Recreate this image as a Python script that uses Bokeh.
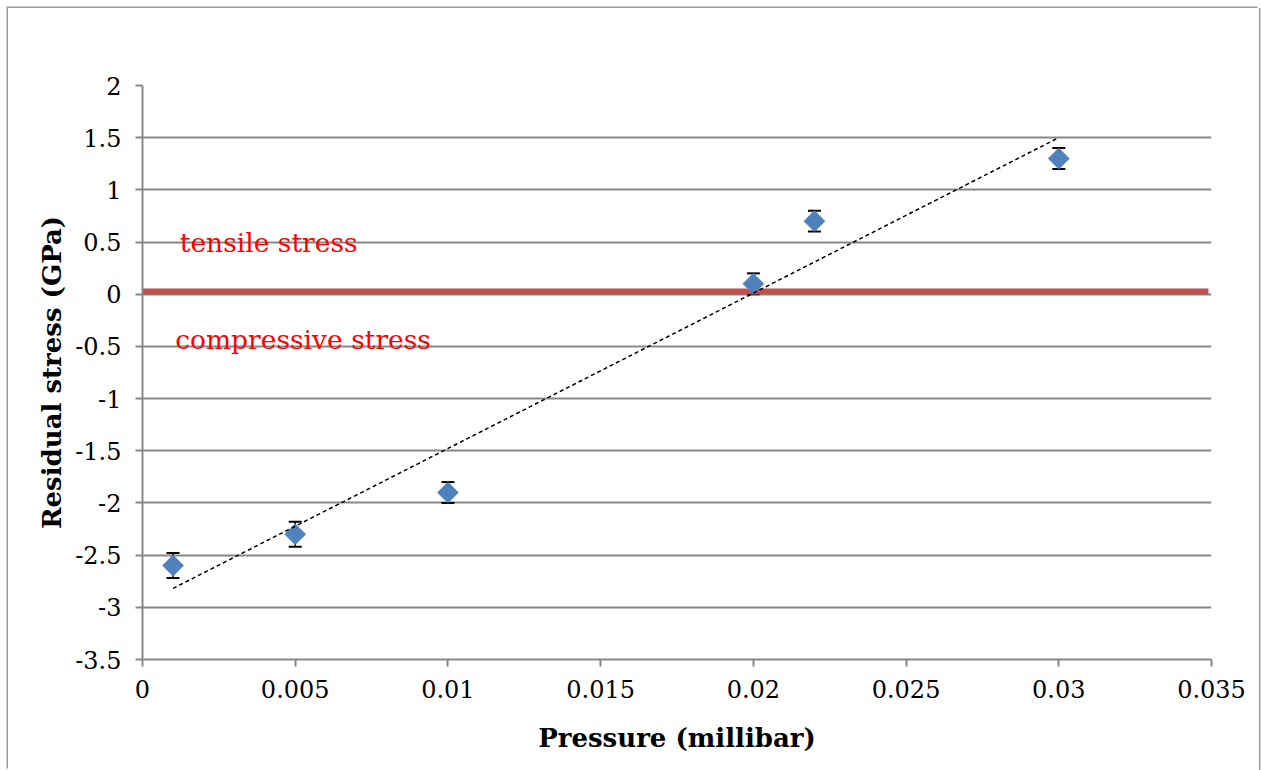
import numpy as np
from bokeh.plotting import figure
from bokeh.models import ColumnDataSource, Whisker, TeeHead, FixedTicker, Label
from bokeh.embed import file_html
from bokeh.resources import INLINE

# ---- data ----
pressure = [0.001, 0.005, 0.01, 0.02, 0.022, 0.03]
stress = [-2.6, -2.3, -1.9, 0.1, 0.7, 1.3]
stress_err = [0.12, 0.12, 0.1, 0.1, 0.1, 0.1]

x_ticks = [0, 0.005, 0.01, 0.015, 0.02, 0.025, 0.03, 0.035]
x_tick_labels = ["0", "0.005", "0.01", "0.015", "0.02", "0.025", "0.03", "0.035"]
y_ticks = [-3.5, -3, -2.5, -2, -1.5, -1, -0.5, 0, 0.5, 1, 1.5, 2]
y_tick_labels = ["-3.5", "-3", "-2.5", "-2", "-1.5", "-1", "-0.5", "0", "0.5", "1", "1.5", "2"]

boundary_x = [0.0, 0.0349]
boundary_y = [0.025, 0.025]

tensile_label = "tensile stress"
compressive_label = "compressive stress"
x_title = "Pressure (millibar)"
y_title = "Residual stress (GPa)"

SERIF = "DejaVu Serif"
GRID = "#878787"

p = figure(width=1251, height=762, output_backend="svg", toolbar_location=None,
           x_range=(0, 0.035), y_range=(-3.5, 2),
           min_border_left=134, min_border_right=48, min_border_top=77, min_border_bottom=111)
p.margin = (8, 0, 0, 8)
p.styles = {"box-shadow": "-1.5px -1.5px 0 0 #9a9a9a, 1.5px 0 0 0 #9a9a9a"}
p.outline_line_color = None
p.background_fill_color = "white"
p.border_fill_color = "white"

# axes
p.xaxis.ticker = FixedTicker(ticks=x_ticks)
p.yaxis.ticker = FixedTicker(ticks=y_ticks)
p.xaxis.major_label_overrides = {t: l for t, l in zip(x_ticks, x_tick_labels)}
p.yaxis.major_label_overrides = {t: l for t, l in zip(y_ticks, y_tick_labels)}
for ax in (p.xaxis, p.yaxis):
    ax.axis_line_color = GRID
    ax.axis_line_width = 2
    ax.major_tick_line_color = GRID
    ax.major_tick_line_width = 2
    ax.major_tick_in = 0
    ax.major_tick_out = 7
    ax.minor_tick_line_color = None
    ax.major_label_text_font = SERIF
    ax.major_label_text_font_size = "24px"
    ax.major_label_text_color = "black"
    ax.axis_label_text_font = SERIF
    ax.axis_label_text_font_style = "bold"
    ax.axis_label_text_font_size = "26px"
    ax.axis_label_text_color = "black"
p.yaxis.major_label_standoff = 14
p.xaxis.major_label_standoff = 13
p.xaxis.axis_label = x_title
p.yaxis.axis_label = y_title
p.xaxis.axis_label_standoff = 22
p.yaxis.axis_label_standoff = 5

p.xgrid.grid_line_color = None
p.ygrid.grid_line_color = GRID
p.ygrid.grid_line_width = 2

# boundary line
p.line(boundary_x, boundary_y, line_color="#C0504D", line_width=6)

# error bars
src = ColumnDataSource(dict(
    x=pressure, y=stress,
    upper=[s + e for s, e in zip(stress, stress_err)],
    lower=[s - e for s, e in zip(stress, stress_err)],
))
wh = Whisker(source=src, base="x", upper="upper", lower="lower",
             line_color="black", line_width=1.5,
             upper_head=TeeHead(size=13, line_color="black", line_width=2),
             lower_head=TeeHead(size=13, line_color="black", line_width=2))
p.add_layout(wh)

# markers
p.scatter("x", "y", source=src, marker="square", angle=np.pi / 4, size=15,
          fill_color="#4F81BD", line_color="#4F81BD", line_width=0.5)

# linear trend line
slope, intercept = np.polyfit(pressure, stress, 1)
tx = np.array([min(pressure), max(pressure)])
p.line(tx, slope * tx + intercept, line_color="black", line_width=1.5, line_dash="4 3")

# annotations
p.add_layout(Label(x=0.00122, y=0.5, text=tensile_label, text_color="red",
                   text_font=SERIF, text_font_size="26.5px", text_baseline="middle"))
p.add_layout(Label(x=0.00107, y=-0.43, text=compressive_label, text_color="red",
                   text_font=SERIF, text_font_size="26.5px", text_baseline="middle"))

open("out.html", "w").write(file_html(p, INLINE))
